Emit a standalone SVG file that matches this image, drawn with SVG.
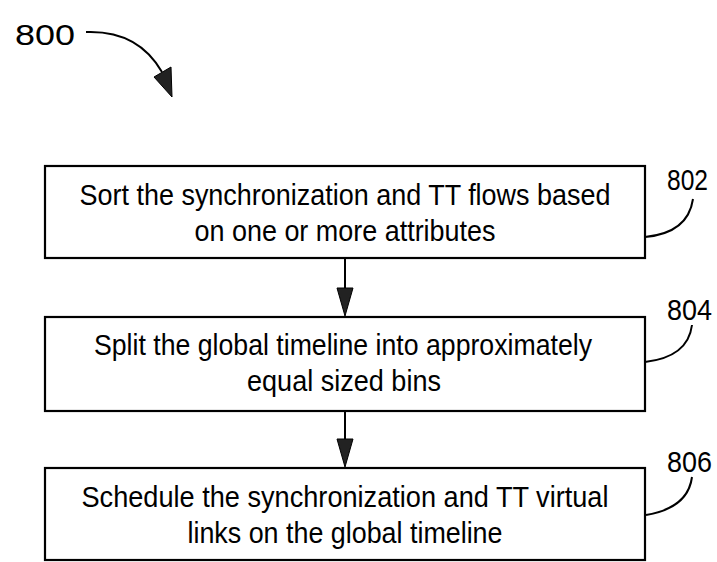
<svg xmlns="http://www.w3.org/2000/svg" width="717" height="562" viewBox="0 0 717 562">
<style>
.box{fill:#fff;stroke:#000;stroke-width:2.2}
.t{font-family:"Liberation Sans",Arial,sans-serif;font-size:30px;fill:#000;text-anchor:middle}
.ref{font-family:"Liberation Sans",Arial,sans-serif;font-size:30px;fill:#000}
.ld{fill:none;stroke:#000;stroke-width:2}
.head{fill:#222;stroke:#000;stroke-width:1}
</style>
<g id="label-800">
<text class="ref" x="15" y="45" font-size="42" textLength="60" lengthAdjust="spacingAndGlyphs">800</text>
<path class="ld" d="M86,32 Q138,30 162,72"/>
<polygon class="head" points="154,77 171,67 172,97"/>
</g>
<g id="node-802">
<rect class="box" x="45" y="166" width="600" height="92"/>
<text class="t" x="345" y="205" textLength="531" lengthAdjust="spacingAndGlyphs">Sort the synchronization and TT flows based</text>
<text class="t" x="345" y="241" textLength="301" lengthAdjust="spacingAndGlyphs">on one or more attributes</text>
<text class="ref" x="667" y="190" textLength="41" lengthAdjust="spacingAndGlyphs">802</text>
<path class="ld" d="M645,237 Q688,233 693,199"/>
</g>
<g id="node-804">
<rect class="box" x="45" y="317" width="600" height="94"/>
<text class="t" x="343" y="355" textLength="498" lengthAdjust="spacingAndGlyphs">Split the global timeline into approximately</text>
<text class="t" x="344" y="391" textLength="194" lengthAdjust="spacingAndGlyphs">equal sized bins</text>
<text class="ref" x="667" y="320" textLength="45" lengthAdjust="spacingAndGlyphs">804</text>
<path class="ld" d="M645,362 Q688,357 692,325"/>
</g>
<g id="node-806">
<rect class="box" x="45" y="468" width="600" height="92"/>
<text class="t" x="345" y="507" textLength="527" lengthAdjust="spacingAndGlyphs">Schedule the synchronization and TT virtual</text>
<text class="t" x="345" y="543" textLength="315" lengthAdjust="spacingAndGlyphs">links on the global timeline</text>
<text class="ref" x="667" y="472" textLength="45" lengthAdjust="spacingAndGlyphs">806</text>
<path class="ld" d="M646,515 Q688,508 692,477"/>
</g>
<g id="connectors">
<line class="ld" x1="345" y1="258" x2="345" y2="290"/>
<polygon class="head" points="337,288 353,288 345,316"/>
<line class="ld" x1="345" y1="411" x2="345" y2="441"/>
<polygon class="head" points="337,439 353,439 345,467"/>
</g>
</svg>
